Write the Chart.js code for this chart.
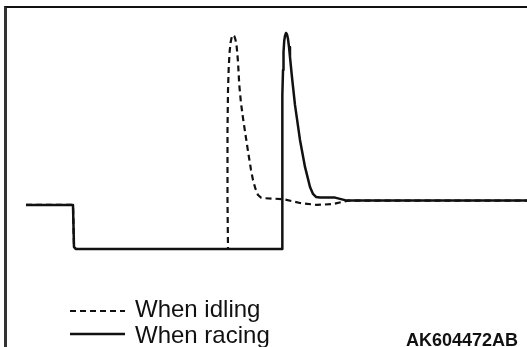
<!DOCTYPE html>
<html>
<head>
<meta charset="utf-8">
<script src="https://cdn.jsdelivr.net/npm/chart.js@4/dist/chart.umd.min.js"></script>
<style>
  body { margin: 0; background: #fff; }
  #wrap { position: relative; width: 527px; height: 347px; overflow: hidden; }
  #frame { position: absolute; left: 4px; top: 6px; width: 530px; height: 360px;
           border-top: 2px solid #111; border-left: 3px solid #333; box-sizing: border-box; }
  .lbl { position: absolute; font-family: "Liberation Sans", Arial, sans-serif; color: #111; white-space: nowrap; }
  .leg { font-size: 24px; line-height: 24px; left: 135px; }
  #code { font-size: 18px; line-height: 18px; font-weight: bold; left: 406px; top: 331px; }
</style>
</head>
<body>
<div id="wrap">
  <div id="frame"></div>
  <canvas id="chart"></canvas>
  <div class="lbl leg" style="top:297px">When idling</div>
  <div class="lbl leg" style="top:323px">When racing</div>
  <div class="lbl" id="code">AK604472AB</div>
</div>
<script>
// time axis 0..100, signal level 0 (low) .. 100 (peak)
const racingTime = [0, 9.38, 9.58, 9.98, 51.1, 51.1, 51.16, 51.24, 51.3, 51.4, 51.54, 51.7, 51.9, 52.1, 52.3, 52.5, 52.69,
  53.09, 53.69, 54.69, 55.69, 56.69, 57.29, 57.88, 58.68, 61.68, 62.87, 64.07, 100];
const racingLevel = [20.4, 20.4, 0.9, 0, 0, 22.7, 55.1, 71.3, 82.9, 91.2, 96.3, 98.8, 100, 99.3, 97.2, 93.5, 88.9,
  79.6, 66.7, 50.5, 38.0, 28.7, 25.5, 24.1, 23.8, 23.8, 23.1, 22.4, 22.4];

const idlingTime = [0, 9.38, 9.58, 9.98, 40.32, 40.22, 40.22, 40.32, 40.46, 40.62, 40.82, 41.06, 41.32, 41.58, 41.82, 42.06,
  42.32, 42.57, 42.91, 43.37, 43.91, 44.37, 44.91, 45.31, 45.81, 46.31, 46.91, 47.7, 51.3, 54.69, 58.02, 61.28, 63.27, 64.27, 100];
const idlingLevel = [20.4, 20.4, 0.9, 0, 0, 22.7, 55.1, 73.6, 83.8, 90.7, 95.4, 98.1, 99.1, 98.6, 96.8, 93.5,
  86.6, 75.9, 67.6, 59.7, 51.4, 44.4, 36.6, 31.9, 27.8, 25.0, 23.8, 23.5, 23.1, 21.3, 20.4, 20.8, 21.9, 22.4, 22.4];

const toPoints = (xs, ys) => xs.map((x, i) => ({x: x, y: ys[i]}));

// legend samples drawn under the chart, same style as the lines
const legendSamples = {
  id: "legendSamples",
  afterDraw(chart) {
    const ctx = chart.ctx;
    const rows = [{ds: 1, y: 311}, {ds: 0, y: 334}];
    rows.forEach((r) => {
      const d = chart.data.datasets[r.ds];
      ctx.save();
      ctx.strokeStyle = d.borderColor;
      ctx.lineWidth = d.borderWidth;
      ctx.setLineDash(d.borderDash || []);
      ctx.beginPath();
      ctx.moveTo(70, r.y);
      ctx.lineTo(125, r.y);
      ctx.stroke();
      ctx.restore();
    });
  },
};

new Chart(document.getElementById("chart"), {
  type: "line",
  data: {
    datasets: [
      {
        label: "When racing",
        data: toPoints(racingTime, racingLevel),
        borderColor: "#111",
        borderWidth: 2.5,
        borderJoinStyle: "round",
        pointRadius: 0,
        tension: 0,
        clip: false,
      },
      {
        label: "When idling",
        data: toPoints(idlingTime, idlingLevel),
        borderColor: "#111",
        borderWidth: 2.2,
        borderDash: [6, 4],
        borderJoinStyle: "round",
        pointRadius: 0,
        tension: 0,
        clip: false,
      },
    ],
  },
  options: {
    responsive: true,
    maintainAspectRatio: false,
    animation: false,
    layout: {padding: {left: 26, right: 0, top: 33, bottom: 98}},
    scales: {
      x: {type: "linear", min: 0, max: 100, display: false},
      y: {min: 0, max: 100, display: false},
    },
    plugins: {legend: {display: false}, tooltip: {enabled: false}},
  },
  plugins: [legendSamples],
});
</script>
</body>
</html>
